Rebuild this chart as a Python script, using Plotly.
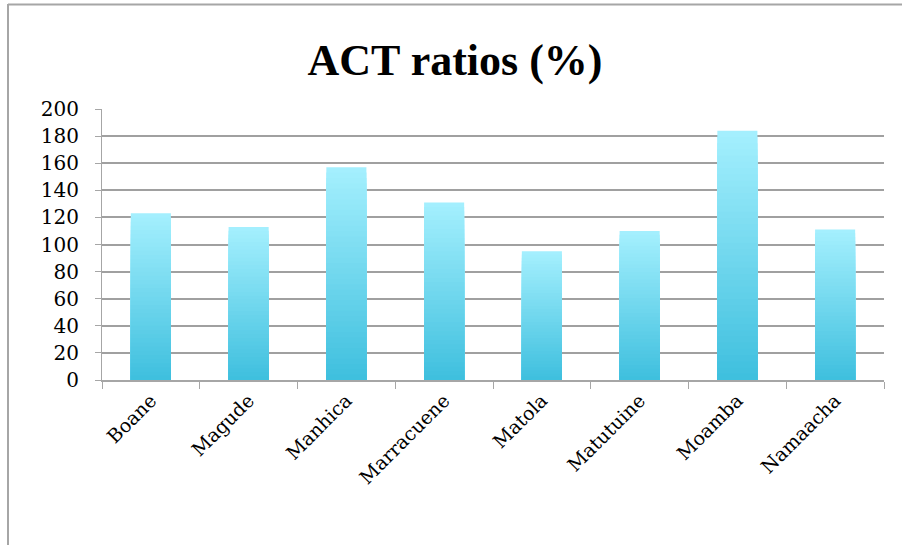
import plotly.graph_objects as go

# ACT ratios by district (%)
districts = ["Boane", "Magude", "Manhica", "Marracuene", "Matola", "Matutuine", "Moamba", "Namaacha"]
act_ratio = [123, 113, 157, 131, 95, 110, 184, 111]
y_tick_values = [0, 20, 40, 60, 80, 100, 120, 140, 160, 180, 200]

# Canvas and plot-area geometry (pixels)
W, H = 902, 545
ML, MR, MT, MB = 102, 18, 109, 165
PW, PH = W - ML - MR, H - MT - MB

# Vertical gradient of the bars: light cyan at the top, deeper cyan at the base
TOP_RGB = (165, 240, 254)
BASE_RGB = (62, 191, 222)
STEPS = 40

fig = go.Figure()
for k in range(STEPS, 0, -1):
    frac = k / STEPS
    f = (k - 0.5) / STEPS
    rgb = tuple(round(BASE_RGB[i] + (TOP_RGB[i] - BASE_RGB[i]) * f) for i in range(3))
    fig.add_trace(go.Bar(
        x=districts,
        y=[v * frac for v in act_ratio],
        width=0.41,
        marker=dict(color="rgb(%d,%d,%d)" % rgb, line=dict(width=0)),
        showlegend=False,
        hoverinfo="skip" if k < STEPS else None,
        customdata=act_ratio,
        hovertemplate="%{x}: %{customdata}%<extra></extra>",
    ))


def px_to_paper_x(px):
    return (px - ML) / PW


def px_to_paper_y(py):
    return (H - MB - py) / PH


frame = dict(type="line", xref="paper", yref="paper",
             line=dict(color="#a6a6a6", width=2), layer="above")
fig.add_shape(**frame, x0=px_to_paper_x(8), x1=px_to_paper_x(W + 2),
              y0=px_to_paper_y(4.5), y1=px_to_paper_y(4.5))
fig.add_shape(**frame, x0=px_to_paper_x(8), x1=px_to_paper_x(8),
              y0=px_to_paper_y(4), y1=px_to_paper_y(H + 2))

fig.update_layout(
    width=W, height=H,
    margin=dict(l=ML, r=MR, t=MT, b=MB),
    paper_bgcolor="white", plot_bgcolor="white",
    barmode="overlay",
    title=dict(
        text="<b>ACT ratios (%)</b>",
        font=dict(family="Liberation Serif", size=44, color="black"),
        x=455 / W, xref="container", xanchor="center",
        y=1 - 60 / H, yref="container", yanchor="middle",
    ),
    xaxis=dict(
        type="category",
        tickangle=-45,
        tickson="boundaries",
        ticks="outside", ticklen=7, tickcolor="#a6a6a6", tickwidth=1,
        showline=True, linecolor="#a6a6a6", linewidth=2,
        showgrid=False,
        tickfont=dict(family="DejaVu Serif", size=19, color="black"),
    ),
    yaxis=dict(
        range=[0, 200],
        tickvals=y_tick_values,
        ticks="outside", ticklen=6, tickcolor="#a6a6a6", tickwidth=1,
        showline=True, linecolor="#a6a6a6", linewidth=1,
        showgrid=True, gridcolor="#a0a0a0", gridwidth=2,
        zeroline=False,
        ticklabelstandoff=12,
        tickfont=dict(family="DejaVu Serif", size=20, color="black"),
    ),
)

fig.write_html("out.html")
